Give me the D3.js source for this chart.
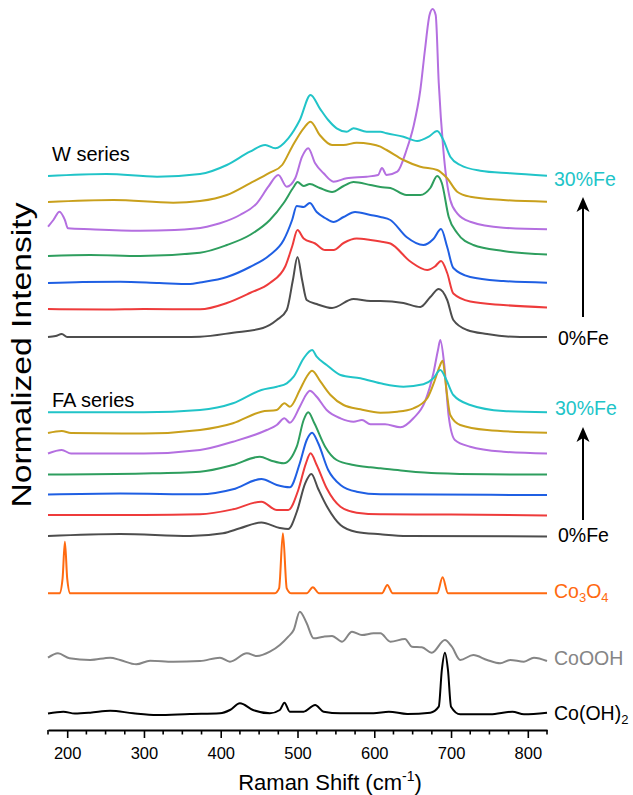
<!DOCTYPE html>
<html>
<head>
<meta charset="utf-8">
<script src="https://cdn.jsdelivr.net/npm/d3@7"></script>
<style>
  body { margin: 0; background: #fff; }
  text { font-family: Arial, "Liberation Sans", sans-serif; }
</style>
</head>
<body>
<svg width="633" height="795"></svg>
<script>
// spectra: [Raman shift (cm-1), intensity above the trace baseline]
// W series, 0%Fe -> 30%Fe
var W0 = [[175,0],[185,0.1],[193,0.3],[200,0],[250,0],[300,0],[350,0],[373,0.03],[416,0.43],[455,0.9],[473,1.7],[486,2.7],[494,5.7],[500,8.0],[506,5.7],[512,3.7],[525,3.3],[545,2.9],[573,3.8],[595,3.6],[608,3.6],[638,3.4],[660,3.0],[673,4.0],[684,4.8],[695,3.7],[703,1.7],[721,0.7],[747,0.3],[790,0],[825,0]]
var W1 = [[175,0.05],[250,0],[300,0.05],[373,0.02],[408,0.65],[438,1.65],[464,2.65],[484,4.3],[493,6.3],[500,7.95],[508,7.1],[523,6.6],[536,5.95],[547,5.95],[560,6.65],[577,7.1],[595,6.95],[608,6.8],[621,6.6],[647,4.8],[669,3.95],[679,4.3],[687,4.85],[695,3.65],[703,1.6],[725,0.8],[768,0.45],[825,0.2]]
var W2 = [[175,0],[220,0.1],[269,0.13],[320,0],[360,-0.1],[373,0.05],[408,0.6],[438,1.6],[464,2.8],[482,4.3],[493,6.3],[499,7.7],[508,7.6],[516,8.0],[525,7.1],[536,6.5],[547,6.1],[560,6.6],[575,7.1],[595,6.8],[608,6.6],[621,6.3],[642,4.6],[664,3.8],[677,4.4],[687,5.4],[695,3.6],[703,1.5],[725,0.6],[768,0.2],[825,0.03]]
var W3 = [[175,0],[230,0.1],[295,0],[373,0.33],[408,1.1],[438,2.1],[464,3.6],[482,5.3],[495,6.9],[500,7.4],[508,7.0],[516,7.2],[529,6.8],[545,6.4],[560,7.0],[573,7.4],[595,7.1],[608,6.9],[621,6.8],[642,6.1],[660,6.1],[673,6.8],[682,8.0],[688,7.3],[697,3.9],[708,2.3],[729,1.1],[768,0.5],[825,0.15]]
var W4 = [[175,0.33],[182,1.0],[190,1.83],[197,1.0],[201,0.17],[230,0.07],[295,-0.07],[340,0],[382,0.33],[399,0.67],[425,1.5],[447,2.67],[462,4.33],[475,5.5],[486,4.33],[497,5.17],[506,7.33],[514,8.17],[523,6.67],[534,5.67],[547,4.83],[564,5.17],[590,5.33],[605,5.5],[610,6.2],[616,5.5],[630,5.83],[642,8.0],[651,10.33],[660,14.0],[666,18.0],[672,21.5],[676,22.1],[680,21.5],[684,14.7],[690,8.0],[699,3.0],[708,1.67],[725,0.83],[768,0.23],[825,0.07]]
var W5 = [[175,0],[260,0.2],[338,-0.07],[373,0.1],[408,0.7],[438,1.87],[464,2.93],[480,3.7],[493,5.53],[508,7.37],[517,8.03],[529,6.7],[545,5.7],[560,5.7],[577,5.93],[595,5.8],[608,5.53],[616,5.2],[638,4.2],[660,3.53],[682,3.2],[695,2.37],[708,1.03],[725,0.53],[768,0.2],[825,0.03]]
var W6 = [[175,0],[251,0.2],[317,-0.07],[373,0.2],[408,1.1],[438,2.43],[458,3.1],[471,2.77],[488,3.77],[503,5.6],[517,8.1],[529,6.77],[540,5.6],[551,4.77],[564,4.43],[573,4.77],[590,4.43],[608,4.43],[616,4.27],[638,3.93],[656,3.5],[671,3.93],[682,4.5],[690,3.6],[699,1.93],[712,1.1],[738,0.53],[777,0.27],[825,0.03]]

// FA series, 0%Fe -> 30%Fe
var FA0 = [[175,0],[269,0.2],[360,0],[403,0.27],[425,0.77],[453,1.35],[477,0.8],[488,0.7],[499,2.4],[510,5.27],[518,6.2],[527,4.7],[538,3.0],[556,1.1],[577,0.4],[608,0.17],[643,0],[825,-0.05]]
var FA1 = [[175,0],[300,0],[373,0.07],[416,0.57],[453,1.33],[473,0.5],[488,0.5],[501,2.5],[511,5.17],[517,6.17],[525,5.0],[538,2.67],[556,0.83],[577,0.23],[608,0.07],[700,0.05],[825,-0.05]]
var FA2 = [[175,0],[269,0.1],[373,0.02],[416,0.52],[453,1.55],[473,0.95],[490,0.72],[503,3.12],[512,5.45],[519,6.18],[527,5.12],[540,2.45],[556,0.95],[577,0.28],[608,0.02],[825,-0.05]]
var FA3 = [[175,0],[300,0.1],[373,0.28],[416,0.95],[451,1.78],[466,1.38],[482,1.12],[499,2.78],[508,5.45],[514,6.22],[522,5.12],[536,2.78],[551,1.45],[573,0.95],[595,0.72],[608,0.62],[638,0.38],[682,0.12],[747,0.02],[825,0]]
var FA4 = [[175,0],[193,0.35],[205,0],[300,0],[373,0.35],[416,1.18],[460,2.35],[473,2.85],[483,3.52],[490,3.08],[503,4.68],[511,5.85],[516,6.28],[525,5.68],[538,4.35],[556,3.52],[573,3.18],[584,3.35],[595,2.92],[614,2.92],[634,2.62],[651,3.52],[666,5.18],[677,8.02],[683,10.35],[686,11.35],[691,9.02],[697,3.68],[705,1.35],[725,0.68],[768,0.18],[825,0]]
var FA5 = [[175,0],[193,0.2],[205,0],[300,-0.05],[373,0.3],[416,0.97],[453,2.13],[473,2.3],[483,2.97],[490,2.63],[503,4.3],[512,5.63],[519,6.23],[530,5.13],[543,3.8],[560,2.8],[582,2.37],[608,2.03],[630,2.13],[651,2.47],[669,3.47],[679,5.3],[685,6.63],[689,7.23],[694,4.3],[699,1.8],[712,0.8],[747,0.3],[825,0.03]]
var FA6 = [[175,0],[300,0],[373,0.23],[416,0.9],[453,2.23],[473,2.56],[486,2.9],[495,3.56],[508,5.4],[519,6.23],[525,5.56],[538,4.73],[556,3.73],[582,3.4],[608,2.9],[638,2.56],[664,2.8],[677,3.4],[686,4.23],[694,3.23],[703,1.73],[725,0.73],[768,0.13],[825,0]]

// references
var Co3O4 = [[175,0],[190,0],[194,1.5],[197,5.16],[200,1.5],[204,0],[300,0],[400,0],[470,0],[476,0.5],[481,6.0],[486,0.5],[492,0],[512,0],[520,0.6],[528,0],[610,0],[617,0.83],[624,0],[682,0],[689,1.6],[696,0],[760,0],[825,0]]
var CoOOH = [[175,0.23],[188,0.67],[203,0.17],[230,0],[256,0.23],[269,0],[290,-0.43],[308,-0.07],[338,-0.17],[373,-0.1],[399,0.23],[412,-0.17],[434,0.67],[447,0.4],[464,0.83],[477,1.5],[488,2.33],[495,3.0],[503,4.83],[512,3.67],[521,2.17],[534,2.33],[545,2.4],[558,1.83],[571,2.83],[584,2.5],[599,2.67],[608,2.67],[621,1.83],[640,2.1],[649,1.33],[662,1.27],[675,0.73],[692,2.0],[701,1.33],[712,0],[729,0.5],[747,0],[764,-0.33],[777,0],[795,-0.17],[808,0.23],[825,-0.1]]
var CoOH2 = [[175,0],[195,0.18],[210,0],[230,0.08],[256,0.28],[286,0.02],[317,-0.15],[360,-0.05],[399,0.02],[412,0.35],[425,1.02],[442,0.35],[464,0.02],[477,0.35],[483,1.08],[490,0.18],[508,0.18],[523,0.85],[534,0.18],[556,0.02],[599,0.02],[619,0.18],[643,-0.05],[673,0.08],[684,0.68],[688,4.35],[692,6.08],[696,4.35],[700,0.68],[712,-0.08],[751,-0.08],[780,0.18],[795,-0.08],[825,0.08]]

var seriesColors = ["#4d4d4d","#ee3b3b","#1f5fe3","#2e9e5e","#b46fe0","#c9a01c","#21c4c8"]
var wOffsets = [39.3, 42.05, 44.7, 47.4, 50.0, 52.8, 55.4]
var faOffsets = [19.4, 21.5, 23.55, 25.55, 27.65, 29.7, 31.77]
var refOffsets = [13.67, 7.0, 1.65]
var refColors = ["#ff6a10", "#858585", "#000000"]
var tickValues = [200, 300, 400, 500, 600, 700, 800]

var svg = d3.select("svg")

var xScale = d3.scaleLinear()
	.domain([175, 825])
	.range([48, 547])

var yScale = d3.scaleLinear()
	.domain([0, 73])
	.range([730, 0])

var traces = []
var wData = [W0, W1, W2, W3, W4, W5, W6]
var faData = [FA0, FA1, FA2, FA3, FA4, FA5, FA6]
for (var i = 0; i < 7; i++) {
	traces.push({data: wData[i], offset: wOffsets[i], color: seriesColors[i]})
	traces.push({data: faData[i], offset: faOffsets[i], color: seriesColors[i]})
}
var refData = [Co3O4, CoOOH, CoOH2]
for (var j = 0; j < 3; j++) {
	traces.push({data: refData[j], offset: refOffsets[j], color: refColors[j]})
}

var line = d3.line()
	.x(function(d){ return xScale(d[0]) })
	.y(function(d){ return d.y })
	.curve(d3.curveMonotoneX)

svg.selectAll("path.trace")
	.data(traces)
	.join("path")
	.attr("class", "trace")
	.attr("fill", "none")
	.attr("stroke", function(d){ return d.color })
	.attr("stroke-width", 2)
	.attr("stroke-linejoin", "round")
	.attr("d", function(t){
		return line(t.data.map(function(p){
			var q = [p[0], p[1]]
			q.y = yScale(t.offset + p[1])
			return q
		}))
	})

// x axis
var axisY = 730
var gx = svg.append("g")
	.attr("transform", "translate(0," + axisY + ")")
	.call(d3.axisBottom(xScale)
		.tickValues(tickValues)
		.tickSize(8)
		.tickSizeOuter(0)
		.tickPadding(9))
gx.select(".domain").attr("stroke-width", 2)
gx.selectAll(".tick line").attr("stroke-width", 1.6)
gx.selectAll(".tick text")
	.attr("font-size", 16.5)
	.attr("fill", "#000")

svg.append("g")
	.attr("transform", "translate(0," + axisY + ")")
	.selectAll("line")
	.data(d3.range(175, 826, 25).filter(function(v){ return v % 100 != 0 }))
	.join("line")
	.attr("x1", function(d){ return xScale(d) })
	.attr("x2", function(d){ return xScale(d) })
	.attr("y1", 0)
	.attr("y2", 4.5)
	.attr("stroke", "#000")
	.attr("stroke-width", 1.6)

var title = svg.append("text")
	.attr("x", 330)
	.attr("y", 790)
	.attr("text-anchor", "middle")
	.attr("font-size", 22)
title.append("tspan").text("Raman Shift (cm")
title.append("tspan").attr("font-size", 14).attr("dy", -9).text("-1")
title.append("tspan").attr("dy", 9).text(")")

svg.append("text")
	.attr("transform", "translate(31,355) rotate(-90)")
	.attr("text-anchor", "middle")
	.attr("font-size", 28)
	.attr("textLength", 305)
	.attr("lengthAdjust", "spacingAndGlyphs")
	.text("Normalized Intensity")

// series labels
svg.append("text").attr("x", 52).attr("y", 161).attr("font-size", 20).text("W series")
svg.append("text").attr("x", 52).attr("y", 407).attr("font-size", 20).text("FA series")

var rightLabels = [
	{t: "30%Fe", x: 554, y: 186, c: seriesColors[6]},
	{t: "0%Fe", x: 558, y: 345, c: "#000"},
	{t: "30%Fe", x: 555, y: 415, c: seriesColors[6]},
	{t: "0%Fe", x: 558, y: 542, c: "#000"},
	{t: "CoOOH", x: 554, y: 665, c: refColors[1]}
]
svg.selectAll("text.rl")
	.data(rightLabels)
	.join("text")
	.attr("class", "rl")
	.attr("x", function(d){ return d.x })
	.attr("y", function(d){ return d.y })
	.attr("font-size", 19.5)
	.attr("fill", function(d){ return d.c })
	.text(function(d){ return d.t })

function subLabel(parts, x, y, color) {
	var t = svg.append("text").attr("x", x).attr("y", y).attr("font-size", 19.5).attr("fill", color)
	parts.forEach(function(p){
		if (p.sub) t.append("tspan").attr("font-size", 13).attr("dy", 4).text(p.s)
		else t.append("tspan").attr("dy", p.back ? -4 : 0).text(p.s)
	})
}
subLabel([{s:"Co"},{s:"3",sub:true},{s:"O",back:true},{s:"4",sub:true}], 554, 598, refColors[0])
subLabel([{s:"Co(OH)"},{s:"2",sub:true}], 554, 720, "#000")

// arrows
function arrow(x, y0, y1) {
	svg.append("line")
		.attr("x1", x).attr("x2", x)
		.attr("y1", y0).attr("y2", y1 + 8)
		.attr("stroke", "#000").attr("stroke-width", 2)
	svg.append("path")
		.attr("d", "M" + x + "," + y1 + " L" + (x + 6.5) + "," + (y1 + 15) + " L" + x + "," + (y1 + 11) + " L" + (x - 6.5) + "," + (y1 + 15) + " Z")
		.attr("fill", "#000")
}
arrow(583, 317, 197)
arrow(583, 520, 427)
</script>
</body>
</html>
